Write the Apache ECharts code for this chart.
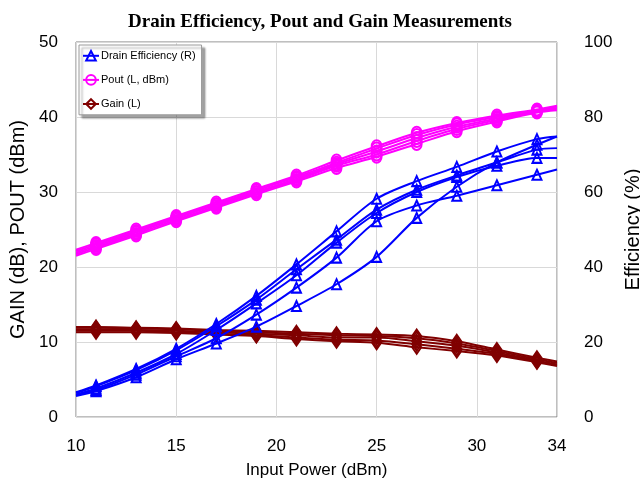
<!DOCTYPE html>
<html>
<head>
<meta charset="utf-8">
<script src="https://cdn.jsdelivr.net/npm/echarts@6/dist/echarts.min.js"></script>
<style>
  html, body { margin: 0; padding: 0; background: #ffffff; }
  #chart { width: 640px; height: 484px; }
</style>
</head>
<body>
<div id="chart"></div>
<script>
// Input power sweep (dBm); markers at the odd steps, line ends at the axis limits
const inputPower = [10, 11, 13, 15, 17, 19, 21, 23, 25, 27, 29, 31, 33, 34];

// Drain efficiency (%), right axis, five devices
const effA = [6.6, 8.4, 12.8, 18.2, 24.8, 32.3, 40.7, 49.5, 58.2, 62.9, 66.7, 70.8, 74.1, 74.8];
const effB = [6.4, 8.2, 12.5, 17.8, 24.2, 31.3, 39.4, 47.3, 55.3, 60.6, 64.4, 67.9, 71.3, 71.7];
const effC = [6.0, 7.6, 11.8, 16.8, 23.2, 30.3, 37.8, 46.5, 54.4, 60.0, 64.0, 67.0, 69.1, 69.1];
const effD = [5.8, 7.2, 11.3, 16.2, 21.0, 27.3, 34.5, 42.5, 52.2, 56.4, 59.0, 61.8, 64.6, 66.0];
const effE = [5.6, 6.9, 10.6, 15.4, 19.6, 24.1, 29.6, 35.4, 42.7, 53.1, 61.4, 67.9, 72.6, 74.8];

// Output power (dBm), left axis
const poutA = [22.3, 23.2, 25.0, 26.8, 28.6, 30.4, 32.2, 34.2, 36.1, 37.9, 39.2, 40.2, 41.0, 41.5];
const poutB = [22.1, 23.0, 24.8, 26.6, 28.4, 30.2, 32.0, 33.9, 35.8, 37.6, 39.0, 40.0, 40.9, 41.4];
const poutC = [21.9, 22.8, 24.6, 26.5, 28.3, 30.0, 31.8, 33.7, 35.4, 37.2, 38.7, 39.8, 40.8, 41.2];
const poutD = [21.7, 22.6, 24.4, 26.3, 28.1, 29.9, 31.6, 33.5, 35.0, 36.8, 38.4, 39.6, 40.7, 41.1];
const poutE = [21.5, 22.4, 24.2, 26.1, 27.9, 29.7, 31.4, 33.2, 34.7, 36.4, 38.1, 39.4, 40.6, 40.9];

// Gain (dB), left axis
const gainA = [12.0, 12.0, 11.9, 11.8, 11.6, 11.5, 11.3, 11.1, 11.0, 10.8, 10.1, 9.0, 7.9, 7.4];
const gainB = [11.9, 11.9, 11.8, 11.7, 11.5, 11.3, 11.1, 10.9, 10.8, 10.5, 9.8, 8.8, 7.7, 7.2];
const gainC = [11.7, 11.7, 11.6, 11.5, 11.3, 11.1, 10.9, 10.6, 10.6, 10.1, 9.5, 8.6, 7.5, 7.0];
const gainD = [11.5, 11.5, 11.5, 11.3, 11.1, 10.9, 10.6, 10.3, 10.2, 9.7, 9.1, 8.4, 7.4, 6.9];
const gainE = [11.3, 11.3, 11.3, 11.2, 11.0, 10.8, 10.4, 10.1, 9.9, 9.3, 8.8, 8.2, 7.3, 6.8];

const xTicks = [10, 15, 20, 25, 30, 34];

const EFF_NAME = 'Drain Efficiency (R)';
const POUT_NAME = 'Pout (L, dBm)';
const GAIN_NAME = 'Gain (L)';

const sans = "'Liberation Sans', Arial, sans-serif";

const lastIdx = inputPower.length - 1;

function makeSeries(name, values, yAxisIndex, color, symbol, size, z) {
  return {
    name: name,
    type: 'line',
    yAxisIndex: yAxisIndex,
    data: inputPower.map((x, i) => [x, values[i]]),
    smooth: 0.3,
    symbol: symbol,
    symbolSize: (v, p) => (p.dataIndex === 0 || p.dataIndex === lastIdx) ? 0 : size,
    showAllSymbol: true,
    lineStyle: { color: color, width: 2 },
    itemStyle: { color: 'rgba(0,0,0,0)', borderColor: color, borderWidth: 2 },
    emphasis: { disabled: true },
    z: z,
    animation: false
  };
}

const series = [];
[gainA, gainB, gainC, gainD, gainE].forEach(v =>
  series.push(makeSeries(GAIN_NAME, v, 0, '#800000', 'diamond', [9, 13], 2)));
[poutA, poutB, poutC, poutD, poutE].forEach(v =>
  series.push(makeSeries(POUT_NAME, v, 0, '#ff00ff', 'circle', [10, 12], 3)));
[effA, effB, effC, effD, effE].forEach(v =>
  series.push(makeSeries(EFF_NAME, v, 1, '#0000ff', 'triangle', [9, 10], 4)));

const chart = echarts.init(document.getElementById('chart'), null, { renderer: 'canvas' });

chart.setOption({
  backgroundColor: '#ffffff',
  animation: false,
  title: {
    text: 'Drain Efficiency, Pout and Gain Measurements',
    left: 'center',
    top: 8,
    textStyle: {
      fontFamily: "'Liberation Serif', 'Times New Roman', serif",
      fontWeight: 'bold',
      fontSize: 19,
      color: '#000000'
    }
  },
  grid: {
    left: 76, right: 83, top: 42, bottom: 67,
    containLabel: false,
    outerBoundsMode: 'none',
    show: true,
    borderColor: '#7f7f7f',
    borderWidth: 1,
    backgroundColor: '#ffffff'
  },
  legend: {
    data: [EFF_NAME, POUT_NAME, GAIN_NAME],
    orient: 'vertical',
    left: 79,
    top: 45,
    padding: [5, 6, 5, 3],
    itemWidth: 16,
    itemHeight: 12,
    itemGap: 12.5,
    backgroundColor: '#ffffff',
    borderColor: '#9a9a9a',
    borderWidth: 1,
    shadowColor: 'rgba(0,0,0,0.35)',
    shadowBlur: 2,
    shadowOffsetX: 3,
    shadowOffsetY: 3,
    selectedMode: false,
    textStyle: { fontFamily: sans, fontSize: 11, color: '#000000', padding: [0, 0, 0, -3] }
  },
  xAxis: {
    type: 'value',
    min: 10,
    max: 34,
    interval: 5,
    name: 'Input Power (dBm)',
    nameLocation: 'middle',
    nameGap: 45,
    nameTextStyle: { fontFamily: sans, fontSize: 17, color: '#000000' },
    axisLine: { show: false },
    axisTick: { show: false },
    axisLabel: {
      margin: 21,
      fontFamily: sans,
      fontSize: 17,
      color: '#000000',
      showMaxLabel: true,
      formatter: v => (xTicks.indexOf(v) >= 0 ? String(v) : '')
    },
    splitLine: { show: true, lineStyle: { color: '#d9d9d9', width: 1 } }
  },
  yAxis: [
    {
      type: 'value',
      position: 'left',
      min: 0,
      max: 50,
      interval: 10,
      name: 'GAIN (dB), POUT (dBm)',
      nameLocation: 'middle',
      nameGap: 43,
      nameTextStyle: { fontFamily: sans, fontSize: 20, color: '#000000' },
      axisLine: { show: false },
      axisTick: { show: false },
      axisLabel: { margin: 18, fontFamily: sans, fontSize: 17, color: '#000000' },
      splitLine: { show: true, lineStyle: { color: '#d9d9d9', width: 1 } }
    },
    {
      type: 'value',
      position: 'right',
      min: 0,
      max: 100,
      interval: 20,
      name: 'Efficiency (%)',
      nameLocation: 'middle',
      nameGap: 60,
      nameRotate: 90,
      nameTextStyle: { fontFamily: sans, fontSize: 20, color: '#000000' },
      axisLine: { show: false },
      axisTick: { show: false },
      axisLabel: { margin: 27, fontFamily: sans, fontSize: 17, color: '#000000' },
      splitLine: { show: false }
    }
  ],
  series: series
});
</script>
</body>
</html>
